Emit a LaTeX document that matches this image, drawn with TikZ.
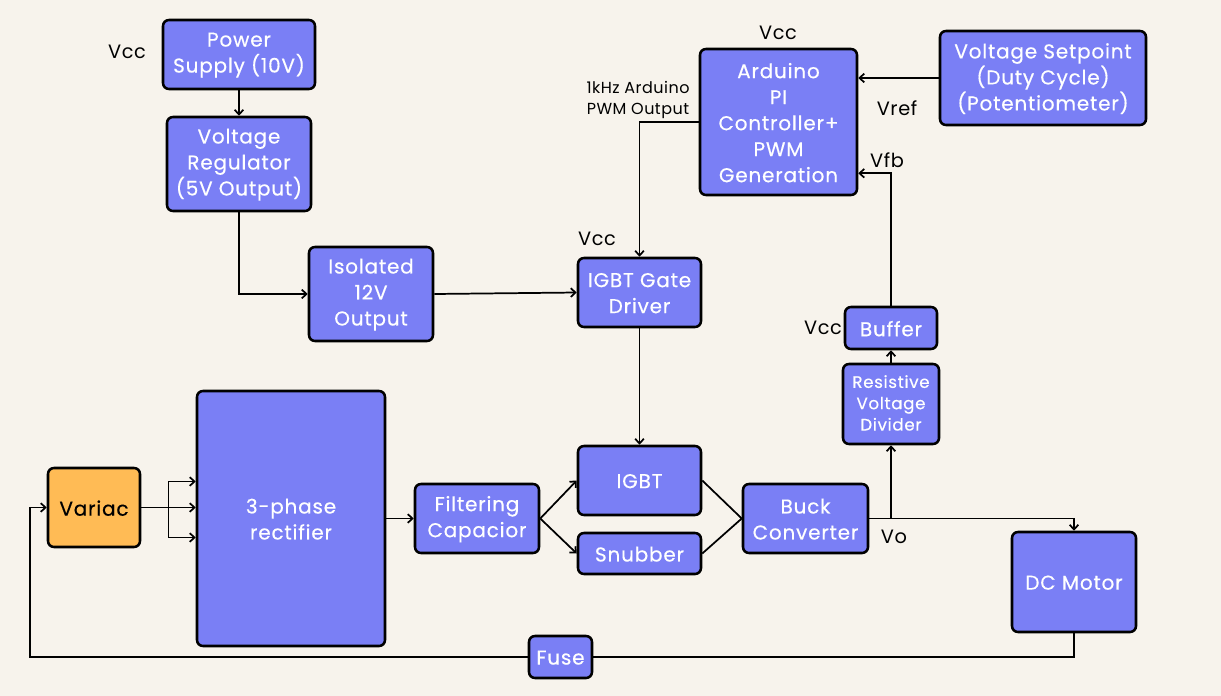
\documentclass[tikz,border=0pt]{standalone}
\usepackage{fontspec}
\setmainfont{Poppins}
\newfontfamily\boxfont{Poppins}[LetterSpace=4,FakeBold=0.4]
\newfontfamily\lblfont{Poppins}[LetterSpace=3]
\usetikzlibrary{fit,calc,arrows.meta}
\definecolor{bg}{HTML}{F7F3EC}
\definecolor{boxfill}{HTML}{7A7FF5}
\definecolor{orangefill}{HTML}{FFBB55}
\begin{document}
\begin{tikzpicture}[x=0.75pt,y=-0.75pt,
  box/.style={draw=black, line width=1.9pt, rounded corners=4.5pt, fill=boxfill, inner sep=0pt},
  txt/.style={text=white, inner sep=0pt, align=center, yshift=-0.5pt, font=\boxfont\fontsize{15}{19.5}\selectfont},
  otxt/.style={txt, text=black},
  obox/.style={box, fill=orangefill},
  lbl/.style={font=\lblfont\fontsize{14.5}{16}\selectfont, text=black, inner sep=0pt},
  conn/.style={line width=1.3pt},
  arr/.style={conn, -{Straight Barb[length=3.5pt,width=6.5pt,line width=1.3pt]}}]
\fill[bg] (0,0) rectangle (1221,696);
\useasboundingbox (0,0) rectangle (1221,696);

\node[box, fit={(163,20) (315,89)}, label={[txt]center:Power\\Supply (10V)}] (ps) {};
\node[box, fit={(167,117) (311,211)}, label={[txt]center:Voltage\\Regulator\\(5V Output)}] (vr) {};
\node[box, fit={(309,247) (433,341)}, label={[txt]center:Isolated\\12V\\Output}] (iso) {};
\node[box, fit={(700,49) (857,195)}, label={[txt]center:Arduino\\PI\\Controller+\\PWM\\Generation}] (ard) {};
\node[box, fit={(940,31) (1146,125)}, label={[txt]center:Voltage Setpoint\\(Duty Cycle)\\(Potentiometer)}] (sp) {};
\node[box, fit={(578,258) (701,327)}, label={[txt]center:IGBT Gate\\Driver}] (gd) {};
\node[box, fit={(845,307) (937,349)}, label={[txt]center:Buffer}] (buf) {};
\node[box, fit={(843,364) (939,444)}, label={[txt, yshift=1.3pt, font=\boxfont\fontsize{12.5}{16}\selectfont]center:Resistive\\Voltage\\Divider}] (div) {};
\node[obox, fit={(48,468) (140,547)}, label={[otxt]center:Variac}] (var) {};
\node[box, fit={(197,391) (385,646)}, label={[txt]center:3-phase\\rectifier}] (rect) {};
\node[box, fit={(415,484) (539,553)}, label={[txt]center:Filtering\\Capacior}] (cap) {};
\node[box, fit={(578,446) (701,515)}, label={[txt]center:IGBT}] (igbt) {};
\node[box, fit={(578,533) (701,574)}, label={[txt]center:Snubber}] (snub) {};
\node[box, fit={(743,484) (868,553)}, label={[txt]center:Buck\\Converter}] (buck) {};
\node[box, fit={(1012,532) (1136,632)}, label={[txt]center:DC Motor}] (dcm) {};
\node[box, fit={(529,636) (592,678)}, label={[txt]center:Fuse}] (fuse) {};

\node[lbl] (l1) at (127,52) {Vcc};
\node[lbl] (l2) at (778,33) {Vcc};
\node[lbl] (l3) at (597,239) {Vcc};
\node[lbl] (l4) at (823,328) {Vcc};
\node[lbl] (l5) at (897,108) {Vref};
\node[lbl] (l6) at (887,160) {Vfb};
\node[lbl] (l7) at (894,537) {Vo};
\node[lbl, align=center, font=\lblfont\fontsize{12}{15.5}\selectfont] (l8) at (638,100) {1kHz Arduino\\PWM Output};

\draw[arr] (ps.south) -- (vr.north);
\draw[arr] (vr.south) |- (iso.west);
\draw[arr] (iso.east) -- (gd.west);
\draw[arr] (ard.west) -| (gd.north);
\draw[arr] (sp.west) -- (sp.west -| ard.east);
\draw[arr] (buf.north) |- ($(ard.south east)+(0,-23)$);
\draw[arr] (div.north) -- (buf.south);
\draw[arr] (buck.east) -| (dcm.north);
\draw[arr] (div.south |- buck.east) -- (div.south);
\draw[conn] (dcm.south) |- (fuse.east);
\coordinate (loop) at (30,657);
\draw[arr] (fuse.west) -- (loop) |- (var.west);
\draw[arr] (var.east) -- (var.east -| rect.west);
\coordinate (br) at ($(var.east)!0.5!(var.east -| rect.west)$);
\draw[arr] (br) -- ++(0,-26) coordinate (b1) -- (b1 -| rect.west);
\draw[arr] (br) -- ++(0,30) coordinate (b2) -- (b2 -| rect.west);
\draw[arr] (rect.east) -- (cap.west);
\draw[arr] (cap.east) -- (igbt.west);
\draw[arr] (cap.east) -- (snub.west);
\draw[conn] (igbt.east) -- (buck.west);
\draw[conn] (snub.east) -- (buck.west);
\draw[arr] (gd.south) -- (igbt.north);
\end{tikzpicture}
\end{document}
